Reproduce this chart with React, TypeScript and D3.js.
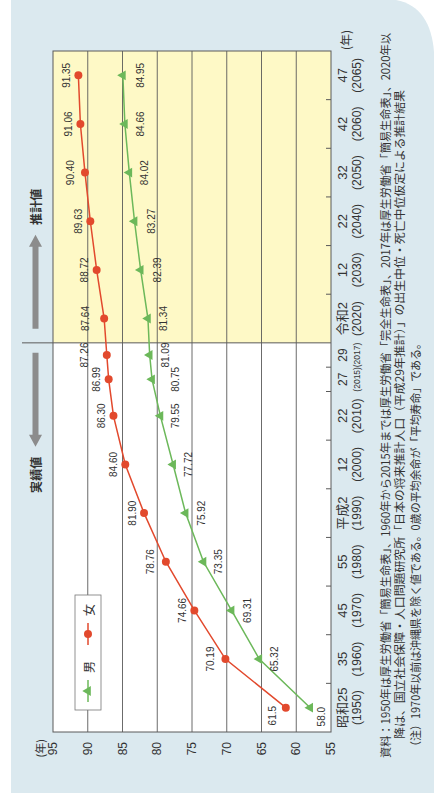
import React, { useEffect, useRef } from 'react';
import * as d3 from 'd3';

// 平均寿命の推移と将来推計 (chart is drawn in its natural orientation, then turned -90deg)
const years = [1950, 1960, 1970, 1980, 1990, 2000, 2010, 2015, 2017, 2020, 2030, 2040, 2050, 2060, 2065];
const eraLabels = ['昭和25', '35', '45', '55', '平成2', '12', '22', '27', '29', '令和2', '12', '22', '32', '42', '47'];
const female = [61.5, 70.19, 74.66, 78.76, 81.9, 84.6, 86.3, 86.99, 87.26, 87.64, 88.72, 89.63, 90.4, 91.06, 91.35];
const male = [58.0, 65.32, 69.31, 73.35, 75.92, 77.72, 79.55, 80.75, 81.09, 81.34, 82.39, 83.27, 84.02, 84.66, 84.95];
const slots = ['1950', '1960', '1970', '1980', '1990', '2000', '2010', '2015/2017', '2020', '2030', '2040', '2050', '2060', '2065'];
const ageTicks = [55, 60, 65, 70, 75, 80, 85, 90, 95];
const firstProjectedSlot = '2020';

const footnotes = [
  '資料：1950年は厚生労働省「簡易生命表」、1960年から2015年までは厚生労働省「完全生命表」、2017年は厚生労働省「簡易生命表」、2020年以',
  '降は、国立社会保障・人口問題研究所「日本の将来推計人口（平成29年推計）」の出生中位・死亡中位仮定による推計結果',
  '（注）1970年以前は沖縄県を除く値である。0歳の平均余命が「平均寿命」である。',
];

// label nudges (layout only)
const femaleShift: Record<number, [number, number]> = {
  1950: [-8, -13.5], 1960: [0, -15], 1980: [0, -15], 2017: [0, -22], 2020: [0, -19], 2050: [0, -14],
};
const maleShift: Record<number, [number, number]> = {
  1950: [-9, 11.5], 2015: [0, 23], 2030: [0, 17], 2040: [0, 17], 2065: [0, 17.5],
};

const FEMALE = '#e2492d';
const MALE = '#6cb85a';
const TEXT = '#333';
const GRID = '#5a5a5a';
const NUM_FONT = '"Liberation Sans", Arial, "Noto Sans CJK JP", sans-serif';
const JP_FONT = '"Noto Sans CJK JP", "Liberation Sans", sans-serif';

const App: React.FC = () => {
  const svgRef = useRef<SVGSVGElement>(null);

  useEffect(() => {
    if (!svgRef.current) return;
    const svg = d3.select(svgRef.current);
    svg.selectAll('*').remove();

    const W = 434;
    const H = 796;

    // panel background (screen coords)
    svg.append('rect').attr('width', W).attr('height', H).attr('fill', '#fff');
    svg.append('path')
      .attr('d', 'M11,0 H396 C420,4 432,24 434,52 V793 H11 Z')
      .attr('fill', '#dbe9ef');

    // rotated group: original x runs bottom->top on screen, original y runs left->right
    const g = svg.append('g').attr('transform', `translate(0,${H}) rotate(-90)`);

    const L = 64, R = 745, T = 53, B = 331;

    const x = d3.scaleBand<string>().domain(slots).range([L, R]);
    const bw = x.bandwidth();
    const y = d3.scaleLinear().domain([55, 95]).range([B, T]);

    const slotOf = (yr: number) => (yr === 2015 || yr === 2017 ? '2015/2017' : String(yr));
    const xPos = (yr: number) => {
      const base = (x(slotOf(yr)) ?? 0) + bw / 2;
      if (yr === 2015) return base - bw / 4;
      if (yr === 2017) return base + bw / 4;
      return base;
    };

    const xDiv = x(firstProjectedSlot) ?? 0;

    // plot backgrounds
    g.append('rect').attr('x', L).attr('y', T).attr('width', R - L).attr('height', B - T).attr('fill', '#fff');
    g.append('rect').attr('x', xDiv).attr('y', T).attr('width', R - xDiv).attr('height', B - T).attr('fill', '#fef9c6');

    // grid lines
    g.selectAll('.grid')
      .data(ageTicks.slice(1, -1))
      .enter()
      .append('line')
      .attr('x1', L).attr('x2', R)
      .attr('y1', d => y(d)).attr('y2', d => y(d))
      .attr('stroke', GRID)
      .attr('stroke-width', 0.9);

    // frame
    g.append('rect')
      .attr('x', L).attr('y', T).attr('width', R - L).attr('height', B - T)
      .attr('fill', 'none').attr('stroke', GRID).attr('stroke-width', 1);

    // category ticks on the age-55 edge
    const tickPos: number[] = [];
    slots.forEach((s, i) => {
      if (i > 0 && s !== firstProjectedSlot) tickPos.push(x(s) ?? 0);
      if (s === '2015/2017') tickPos.push((x(s) ?? 0) + bw / 2);
    });
    g.selectAll('.tick')
      .data(tickPos)
      .enter()
      .append('line')
      .attr('x1', d => d).attr('x2', d => d)
      .attr('y1', B).attr('y2', B - 5)
      .attr('stroke', GRID);

    // divider between actual and projected values
    g.append('line')
      .attr('x1', xDiv).attr('x2', xDiv)
      .attr('y1', 22).attr('y2', B)
      .attr('stroke', GRID).attr('stroke-width', 1);

    // arrows
    const arrowY = 35.5;
    const arrow = (from: number, to: number) => {
      const dir = Math.sign(to - from);
      const headBase = to - dir * 12;
      const p = d3.path();
      p.moveTo(from, arrowY - 3);
      p.lineTo(headBase, arrowY - 3);
      p.lineTo(headBase, arrowY - 6.5);
      p.lineTo(to, arrowY);
      p.lineTo(headBase, arrowY + 6.5);
      p.lineTo(headBase, arrowY + 3);
      p.lineTo(from, arrowY + 3);
      p.closePath();
      g.append('path').attr('d', p.toString()).attr('fill', '#8c8c8c');
    };
    arrow(xDiv + 14, xDiv + 108);
    arrow(xDiv - 10, xDiv - 104);

    g.append('text')
      .attr('x', xDiv + 136).attr('y', arrowY)
      .attr('text-anchor', 'middle').attr('dominant-baseline', 'central')
      .attr('font-family', JP_FONT).attr('font-size', 12).attr('font-weight', 700)
      .attr('fill', TEXT)
      .text('推計値');
    g.append('text')
      .attr('x', xDiv - 132).attr('y', arrowY)
      .attr('text-anchor', 'middle').attr('dominant-baseline', 'central')
      .attr('font-family', JP_FONT).attr('font-size', 12).attr('font-weight', 700)
      .attr('fill', TEXT)
      .text('実績値');

    // legend
    const lg = g.append('g');
    lg.append('rect')
      .attr('x', 86).attr('y', 75).attr('width', 115).attr('height', 26)
      .attr('fill', '#fff').attr('stroke', '#777').attr('stroke-width', 0.8);
    const legendItems = [
      { name: '男', color: MALE, tri: true, x0: 94 },
      { name: '女', color: FEMALE, tri: false, x0: 151 },
    ];
    legendItems.forEach(it => {
      lg.append('line')
        .attr('x1', it.x0).attr('x2', it.x0 + 22)
        .attr('y1', 88).attr('y2', 88)
        .attr('stroke', it.color).attr('stroke-width', 1.5);
      lg.append('path')
        .attr('d', d3.symbol(it.tri ? d3.symbolTriangle : d3.symbolCircle).size(it.tri ? 42 : 50)())
        .attr('transform', `translate(${it.x0 + 11},88)`)
        .attr('fill', it.color);
      lg.append('text')
        .attr('x', it.x0 + 35).attr('y', 88)
        .attr('text-anchor', 'middle').attr('dominant-baseline', 'central')
        .attr('font-family', JP_FONT).attr('font-size', 12)
        .attr('fill', TEXT)
        .text(it.name);
    });

    // series
    const line = d3.line<number>()
      .x((_d, i) => xPos(years[i]))
      .y(d => y(d));

    const series = [
      { values: male, color: MALE, tri: true, shift: maleShift, dy: 15.5 },
      { values: female, color: FEMALE, tri: false, shift: femaleShift, dy: -12 },
    ];

    series.forEach(s => {
      g.append('path')
        .datum(s.values)
        .attr('d', line)
        .attr('fill', 'none')
        .attr('stroke', s.color)
        .attr('stroke-width', 1.5);

      g.selectAll(null)
        .data(s.values)
        .enter()
        .append('path')
        .attr('d', d3.symbol(s.tri ? d3.symbolTriangle : d3.symbolCircle).size(s.tri ? 42 : 50)())
        .attr('transform', (d, i) => `translate(${xPos(years[i])},${y(d)})`)
        .attr('fill', s.color);

      g.selectAll(null)
        .data(s.values)
        .enter()
        .append('text')
        .attr('x', (_d, i) => xPos(years[i]) + (s.shift[years[i]]?.[0] ?? 0))
        .attr('y', (d, i) => y(d) + (s.shift[years[i]]?.[1] ?? s.dy))
        .attr('text-anchor', 'middle')
        .attr('dominant-baseline', 'central')
        .attr('font-family', NUM_FONT)
        .attr('font-size', 10)
        .attr('fill', TEXT)
        .text((d, i) => (i === 0 ? d.toFixed(1) : d.toFixed(2)));
    });

    // age axis labels
    g.selectAll('.ageLabel')
      .data(ageTicks)
      .enter()
      .append('text')
      .attr('x', L - 10)
      .attr('y', d => y(d))
      .attr('text-anchor', 'end')
      .attr('dominant-baseline', 'central')
      .attr('font-family', NUM_FONT)
      .attr('font-size', 12)
      .attr('fill', TEXT)
      .text(d => String(d));
    g.append('text')
      .attr('x', L - 7).attr('y', y(95) - 13)
      .attr('text-anchor', 'end').attr('dominant-baseline', 'central')
      .attr('font-family', JP_FONT).attr('font-size', 11)
      .attr('fill', TEXT)
      .text('(年)');

    // year axis labels
    years.forEach((yr, i) => {
      const small = yr === 2015 || yr === 2017;
      g.append('text')
        .attr('x', xPos(yr)).attr('y', 347)
        .attr('text-anchor', 'middle')
        .attr('font-family', NUM_FONT).attr('font-size', small ? 12 : 13)
        .attr('fill', TEXT)
        .text(eraLabels[i]);
      g.append('text')
        .attr('x', xPos(yr)).attr('y', small ? 360 : 361)
        .attr('text-anchor', 'middle')
        .attr('font-family', NUM_FONT).attr('font-size', small ? 8.5 : 12)
        .attr('fill', TEXT)
        .text(`(${yr})`);
    });
    g.append('text')
      .attr('x', R + 11).attr('y', 351)
      .attr('text-anchor', 'middle')
      .attr('font-family', JP_FONT).attr('font-size', 12)
      .attr('fill', TEXT)
      .text('(年)');

    // footnotes
    const notePos = [
      { x: 38, y: 389.5, len: 725 },
      { x: 57, y: 404, len: 649 },
      { x: 44, y: 419.5, len: 414 },
    ];
    footnotes.forEach((t, i) => {
      g.append('text')
        .attr('x', notePos[i].x).attr('y', notePos[i].y)
        .attr('textLength', notePos[i].len)
        .attr('lengthAdjust', 'spacingAndGlyphs')
        .attr('font-family', JP_FONT).attr('font-size', 11.5)
        .attr('fill', TEXT)
        .text(t);
    });
  }, []);

  return (
    <svg
      ref={svgRef}
      width={434}
      height={796}
      style={{ position: 'absolute', left: 0, top: 0, display: 'block' }}
    />
  );
};

export default App;
